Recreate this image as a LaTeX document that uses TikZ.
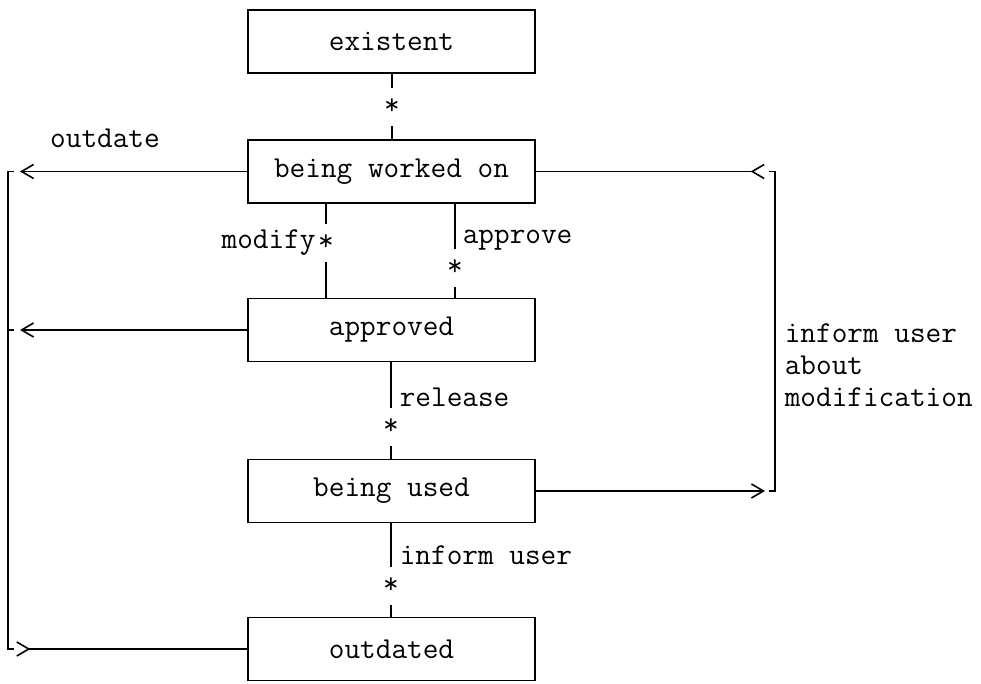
\documentclass[tikz,border=0pt]{standalone}
\usetikzlibrary{arrows.meta}
\newcommand{\tstar}{\raisebox{-2pt}{*}}

\begin{document}
\begin{tikzpicture}[x=0.5pt,y=-0.5pt,line width=0.8pt,font=\fontsize{15.2}{16}\selectfont\ttfamily,
        state/.style={draw,minimum width=143.5pt,minimum height=31.5pt,inner sep=0pt},
        starnode/.style={minimum height=18pt,inner sep=0pt},
        lbl/.style={inner sep=0pt},
        flow/.style={-{Straight Barb[length=6pt,width=7pt]}},
        backflow/.style={-{Straight Barb[length=6pt,width=7pt,reversed]}},
        outflow/.style={{Straight Barb[length=6pt,width=7pt,reversed]}-}]
        \useasboundingbox(0,0)rectangle(981,684);

        \node[state](ex)at(391.5,41.5){existent};
        \node[state](bwo)at(391.5,171.5){being worked on};
        \node[state](ap)at(391.5,330){approved};
        \node[state](bu)at(391.5,491){being used};
        \node[state](od)at(391.5,649){outdated};

        \node[starnode](s1)at(392,107){\tstar};
        \node[starnode](s2)at(326,243){\tstar};
        \node[starnode](s3)at(455,268){\tstar};
        \node[starnode](s4)at(391,427){\tstar};
        \node[starnode](s5)at(391,586){\tstar};

        \node[lbl,anchor=east](lmod)at([xshift=-0.5pt]s2.west){modify};
        \node[lbl,anchor=west](lapp)at(462,240){approve};
        \node[lbl,anchor=west](lrel)at(399,397){release};
        \node[lbl,anchor=west](linf)at(399,555){inform user};
        \node[lbl,anchor=west,align=left](lnote)at(784,365){inform user\\about\\modification};
        \node[lbl](lout)at(105,138){outdate};

        \draw(ex.south-|s1)--(s1.north);
        \draw(s1.south)--(bwo.north-|s1);
        \draw(bwo.south-|s2)--(s2.north);
        \draw(s2.south)--(ap.north-|s2);
        \draw(bwo.south-|s3)--(s3.north);
        \draw(s3.south)--(ap.north-|s3);
        \draw(ap.south-|s4)--(s4.north);
        \draw(s4.south)--(bu.north-|s4);
        \draw(bu.south-|s5)--(s5.north);
        \draw(s5.south)--(od.north-|s5);

        \coordinate(lt)at(8,171.5);
        \coordinate(lm)at(8,330);
        \coordinate(lb)at(8,649);
        \coordinate(rt)at(775,171.5);
        \coordinate(rb)at(775,491);
        \coordinate(lt-in)at(20,171.5);
        \coordinate(lm-in)at(20,330);
        \coordinate(lb-out)at(16,649);
        \coordinate(rt-in)at(765,171.5);
        \coordinate(rb-in)at(765,491);

        \draw[flow](bwo.west)--(lt-in);
        \draw[flow](ap.west)--(lm-in);
        \draw[outflow](lb-out)--(od.west);
        \draw[backflow](bwo.east)--(rt-in);
        \draw[flow](bu.east)--(rb-in);
        \draw([xshift=3pt]lt)--(lt)--(lb)--([xshift=3pt]lb);
        \draw(lm)--([xshift=3pt]lm);
        \draw([xshift=-3pt]rt)--(rt)--(rb)--([xshift=-3pt]rb);
\end{tikzpicture}
\end{document}
